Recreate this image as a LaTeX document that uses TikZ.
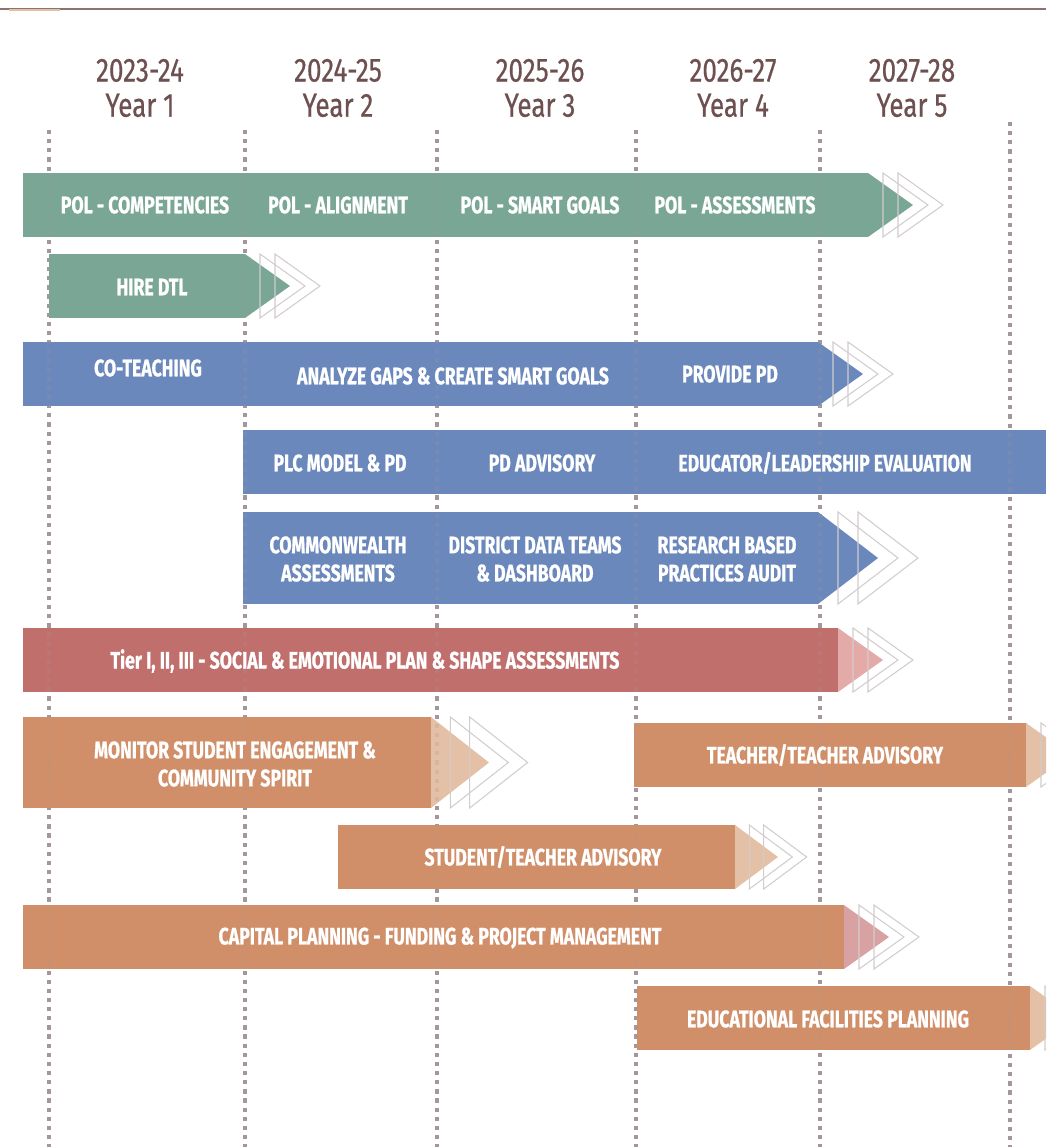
\documentclass[tikz,border=0pt]{standalone}
\usepackage{fontspec}
\setmainfont{Fira Sans}[FakeStretch=0.76]
\newfontfamily\barfont{Fira Sans Bold}[FakeStretch=0.74,FakeBold=0.8]
\newfontfamily\yearfont{Fira Sans}[FakeStretch=0.78,FakeBold=0.5]
\usepackage{tikz}

\definecolor{polgreen}{HTML}{7AA696}
\definecolor{pdblue}{HTML}{6A88BC}
\definecolor{selred}{HTML}{C06F6D}
\definecolor{capbrown}{HTML}{D08F69}
\definecolor{headtan}{HTML}{E4C0A6}
\definecolor{headpink}{HTML}{E3AAA8}
\definecolor{headmauve}{HTML}{D9A2A2}
\definecolor{yeartxt}{HTML}{6E5050}
\definecolor{dotgray}{HTML}{A4979B}
\definecolor{chevgray}{HTML}{D2CCCC}

\tikzset{
  bartext/.style={text=white,font=\barfont\fontsize{13.6}{16}\selectfont,align=center,inner sep=0pt},
  yeartext/.style={text=yeartxt,font=\yearfont\fontsize{19}{20}\selectfont,align=center,inner sep=0pt},
  dotline/.style={draw=dotgray,line width=2.4pt,dash pattern=on 2.4pt off 2.8pt},
  chev/.style={draw=chevgray,line width=0.6pt}
}

% arrow head: x start, y top, y bottom, width, fill
\newcommand{\barhead}[5]{%
  \fill[#5] (#1,#2) -- ({#1+#4},{(#2+#3)/2}) -- (#1,#3) -- cycle;
  \draw[chev] ({#1+#4/3},#2) -- ({#1+#4/3+#4},{(#2+#3)/2}) -- ({#1+#4/3},#3) -- cycle;
  \draw[chev] ({#1+2*#4/3},#2) -- ({#1+2*#4/3+#4},{(#2+#3)/2}) -- ({#1+2*#4/3},#3) -- cycle;
}

\begin{document}
\begin{tikzpicture}[x=0.02cm,y=-0.02cm]
\useasboundingbox (0,0) rectangle (1046,1147);
\clip (0,0) rectangle (1046,1147);

% top rule
\draw [draw=yeartxt!80,line width=0.8pt] (0,9) -- (1046,9);
\draw [draw=headtan,line width=0.8pt] (9,10) -- (60,10);

% years
\path (140,88) node (y1) [yeartext] {2023-24\\Year 1};
\path (338,88) node (y2) [yeartext] {2024-25\\Year 2};
\path (540,88) node (y3) [yeartext] {2025-26\\Year 3};
\path (733,88) node (y4) [yeartext] {2026-27\\Year 4};
\path (912,88) node (y5) [yeartext] {2027-28\\Year 5};

% year separators
\foreach \x in {49,245,437,636,820} \draw [dotline] (\x,130) -- (\x,1147);
\draw [dotline] (1010,122) -- (1010,1147);

% bars
\fill [polgreen] (23,173) rectangle (868,237);
\barhead{868}{173}{237}{45}{polgreen}
\fill [polgreen] (49,254) rectangle (245,318);
\barhead{245}{254}{318}{45}{polgreen}
\fill [pdblue] (23,342) rectangle (818,406);
\barhead{818}{342}{406}{45}{pdblue}
\fill [pdblue] (243,430) rectangle (1046,494);
\fill [pdblue] (243,512) rectangle (818,604);
\barhead{818}{512}{604}{60}{pdblue}
\fill [selred] (23,628) rectangle (838,692);
\barhead{838}{628}{692}{45}{headpink}
\fill [capbrown] (23,717) rectangle (431,808);
\barhead{431}{717}{808}{58}{headtan}
\fill [capbrown] (634,723) rectangle (1026,787);
\barhead{1026}{723}{787}{45}{headtan}
\fill [capbrown] (338,825) rectangle (735,889);
\barhead{735}{825}{889}{43}{headtan}
\fill [capbrown] (23,905) rectangle (844,969);
\barhead{844}{905}{969}{45}{headmauve}
\fill [capbrown] (637,986) rectangle (1030,1050);
\barhead{1030}{986}{1050}{45}{headtan}

% separators seen through the bars
\foreach \x in {49,245,437,636,820} \draw [dotline,opacity=0.22] (\x,130) -- (\x,1147);
\draw [dotline,opacity=0.22] (1010,122) -- (1010,1147);

% labels
\path (145,205) node (polcomp) [bartext] {POL - COMPETENCIES};
\path (338,205) node (polalign) [bartext] {POL - ALIGNMENT};
\path (540,205) node (polsmart) [bartext] {POL - SMART GOALS};
\path (735,205) node (polassess) [bartext] {POL - ASSESSMENTS};
\path (152,287) node (hire) [bartext] {HIRE DTL};
\path (148,368) node (coteach) [bartext] {CO-TEACHING};
\path (453,376) node (gaps) [bartext] {ANALYZE GAPS \& CREATE SMART GOALS};
\path (730,374) node (providepd) [bartext] {PROVIDE PD};
\path (340,463) node (plc) [bartext] {PLC MODEL \& PD};
\path (542,463) node (pdadv) [bartext] {PD ADVISORY};
\path (825,463) node (evalu) [bartext] {EDUCATOR/LEADERSHIP EVALUATION};
\path (338,559) node (commw) [bartext] {COMMONWEALTH\\ASSESSMENTS};
\path (535,559) node (ddt) [bartext] {DISTRICT DATA TEAMS\\\& DASHBOARD};
\path (727,559) node (audit) [bartext] {RESEARCH BASED\\PRACTICES AUDIT};
\path (365,661) node (tier) [bartext] {Tier I, II, III - SOCIAL \& EMOTIONAL PLAN \& SHAPE ASSESSMENTS};
\path (235,764) node (monitor) [bartext] {MONITOR STUDENT ENGAGEMENT \&\\COMMUNITY SPIRIT};
\path (825,755) node (ttadv) [bartext] {TEACHER/TEACHER ADVISORY};
\path (543,857) node (stadv) [bartext] {STUDENT/TEACHER ADVISORY};
\path (440,938) node (capital) [bartext] {CAPITAL PLANNING - FUNDING \& PROJECT MANAGEMENT};
\path (828,1019) node (facil) [bartext] {EDUCATIONAL FACILITIES PLANNING};
\end{tikzpicture}
\end{document}
